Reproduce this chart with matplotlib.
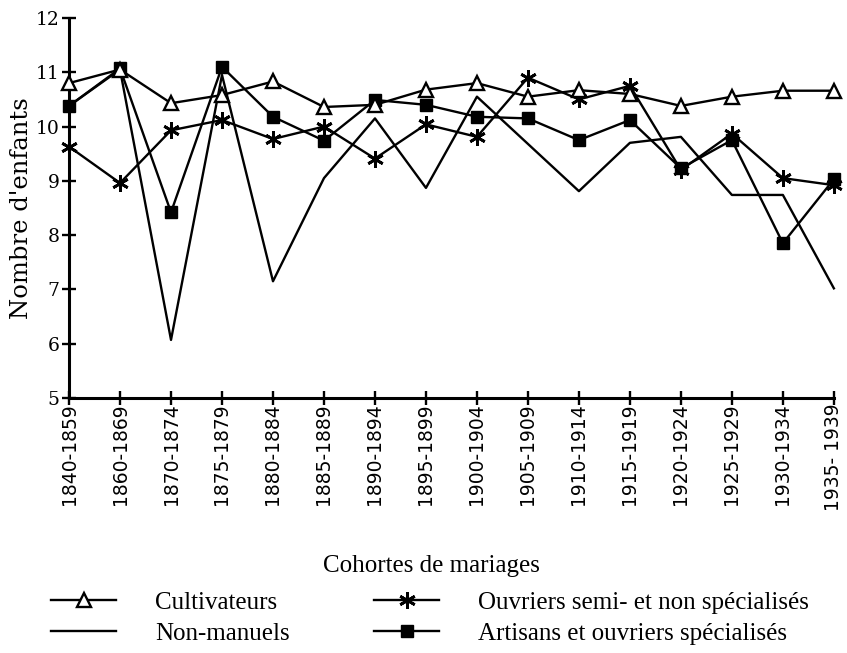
import numpy as np
import matplotlib
matplotlib.use("Agg")
import matplotlib.pyplot as plt

cohortes = ["1840-1859", "1860-1869", "1870-1874", "1875-1879", "1880-1884",
            "1885-1889", "1890-1894", "1895-1899", "1900-1904", "1905-1909",
            "1910-1914", "1915-1919", "1920-1924", "1925-1929", "1930-1934",
            "1935- 1939"]

cultivateurs = [10.80, 11.05, 10.43, 10.58, 10.83, 10.36, 10.40, 10.68,
                10.80, 10.55, 10.67, 10.60, 10.38, 10.55, 10.66, 10.66]
non_manuels = [10.38, 11.05, 6.07, 10.95, 7.15, 9.05, 10.15, 8.87,
               10.55, 9.68, 8.81, 9.70, 9.81, 8.74, 8.74, 7.02]
ouvriers_semi = [9.63, 8.96, 9.93, 10.12, 9.77, 10.00, 9.41, 10.04,
                 9.81, 10.90, 10.50, 10.75, 9.20, 9.87, 9.05, 8.92]
artisans = [10.38, 11.07, 8.42, 11.10, 10.18, 9.74, 10.49, 10.40,
            10.18, 10.15, 9.75, 10.12, 9.23, 9.75, 7.85, 9.03]

serif = ["Liberation Serif", "DejaVu Serif"]
wide_serif = ["DejaVu Serif"]

fig = plt.figure(figsize=(8.47, 6.53), dpi=100)
ax = fig.add_axes([0.0815, 0.3905, 0.903, 0.582])

x = np.arange(len(cohortes))
lw = 1.7
l1, = ax.plot(x, cultivateurs, color="black", lw=lw, marker="^", ms=10,
              mfc="white", mec="black", mew=1.7, clip_on=False,
              label="Cultivateurs", zorder=3)
l2, = ax.plot(x, non_manuels, color="black", lw=lw, clip_on=False,
              label="Non-manuels")
l3, = ax.plot(x, ouvriers_semi, color="black", lw=lw, marker=(6, 2, 0), ms=12,
              mew=2.0, clip_on=False,
              label="Ouvriers semi- et non spécialisés")
l4, = ax.plot(x, artisans, color="black", lw=lw, marker="s", ms=9,
              clip_on=False, label="Artisans et ouvriers spécialisés")

ax.set_xlim(0, len(cohortes) - 1)
ax.set_ylim(5, 12)
ax.set_yticks(range(5, 13))
ax.set_xticks(x)
ax.set_xticklabels(cohortes, rotation=90, fontsize=13.5, family="DejaVu Sans")
for t in ax.get_yticklabels():
    t.set_family(wide_serif)
    t.set_fontsize(13.5)
ax.tick_params(axis="both", direction="inout", length=10, width=1.7)
ax.tick_params(axis="x", pad=-1)
ax.tick_params(axis="y", pad=2)
ax.spines["top"].set_visible(False)
ax.spines["right"].set_visible(False)
ax.spines["left"].set_linewidth(2.2)
ax.spines["bottom"].set_linewidth(2.2)

ax.set_ylabel("Nombre d'enfants", family=wide_serif, fontsize=17.5, labelpad=2)
fig.text(0.509, 0.133, "Cohortes de mariages", family=serif, fontsize=18,
         ha="center", va="center")

fig.legend(handles=[l1, l2, l3, l4], loc="upper left",
           bbox_to_anchor=(51 / 847, 0.094), ncol=2, frameon=False,
           prop={"family": serif, "size": 18}, handlelength=2.6,
           handletextpad=1.55, columnspacing=3.4, labelspacing=0.33,
           borderpad=0, borderaxespad=0)

fig.savefig("out.png", dpi=100)
